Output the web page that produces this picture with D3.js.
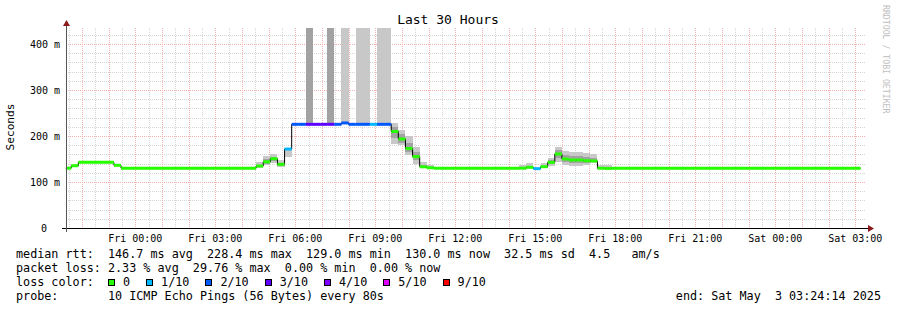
<!DOCTYPE html>
<html>
<head>
<meta charset="utf-8">
<script src="https://cdn.jsdelivr.net/npm/d3@7"></script>
<style>
  body { margin: 0; background: #fff; }
  text { font-family: "DejaVu Sans Mono", monospace; white-space: pre; }
</style>
</head>
<body>
<svg id="chart" width="897" height="310"></svg>
<script>
// 16 minute consolidated steps (start time of each step)
const stepStart = [
  "2025-05-01 21:24", "2025-05-01 21:36", "2025-05-01 21:52", "2025-05-01 23:12", "2025-05-01 23:28",
  "2025-05-02 04:32", "2025-05-02 04:48", "2025-05-02 05:04", "2025-05-02 05:20", "2025-05-02 05:36",
  "2025-05-02 05:52", "2025-05-02 06:08", "2025-05-02 06:24", "2025-05-02 06:40", "2025-05-02 06:56",
  "2025-05-02 07:12", "2025-05-02 07:28", "2025-05-02 07:44", "2025-05-02 08:00", "2025-05-02 08:16",
  "2025-05-02 08:32", "2025-05-02 08:48", "2025-05-02 09:04", "2025-05-02 09:20", "2025-05-02 09:36",
  "2025-05-02 09:52", "2025-05-02 10:08", "2025-05-02 10:24", "2025-05-02 10:40", "2025-05-02 10:56",
  "2025-05-02 11:12", "2025-05-02 14:24", "2025-05-02 14:40", "2025-05-02 14:56", "2025-05-02 15:12",
  "2025-05-02 15:28", "2025-05-02 15:44", "2025-05-02 16:00", "2025-05-02 16:16", "2025-05-02 16:32",
  "2025-05-02 16:48", "2025-05-02 17:04", "2025-05-02 17:20", "2025-05-02 17:36", "2025-05-02 17:52"
];
const dataEnd = "2025-05-03 03:12";

// median rtt in ms
const median = [
  130, 135.4, 142.8, 136.3, 130,
  134.8, 144, 150.7, 138.5, 171.7,
  225.4, 225.4, 225.4, 225.4, 225.4,
  225.4, 225.4, 228.4, 225.4, 225.4,
  225.4, 225.4, 225.4, 225.4, 209.8,
  193.5, 173, 155, 133, 131,
  130, 130, 132, 129, 133.3,
  142.8, 160.9, 150, 147.8, 147.8,
  146.3, 145.7, 130, 129.5, 130
];

// lost pings out of 10
const loss = [
  0, 0, 0, 0, 0,
  0, 0, 0, 0, 1,
  2, 2, 3, 3, 3,
  3, 2, 2, 2, 2,
  2, 1, 2, 2, 0,
  0, 0, 0, 0, 0,
  0, 0, 0, 1, 0,
  0, 0, 0, 0, 0,
  0, 0, 0, 0, 0
];

// outer (light) smoke range, ms
const smokeLo = [
  null, null, null, null, null,
  130, 137, 141, 132, 155,
  null, null, null, null, null,
  null, null, 228.4, null, 225.4,
  225.4, null, 225.4, 225.4, 182,
  180, 159, 140, 130, 128,
  null, 128, 130, null, 131,
  135, 144, 138, 135, 135,
  136, 141, 128, 128, null
];
const smokeHi = [
  null, null, null, null, null,
  144, 156.5, 161, 148, 172,
  null, null, null, null, null,
  null, null, 450, null, 450,
  450, null, 450, 450, 228,
  213, 200, 177, 144, 137,
  null, 137, 141, null, 141,
  153, 177, 167, 166, 166,
  164, 161, 137, 137, null
];
// inner (dark) smoke range, ms
const coreLo = [
  null, null, null, null, null,
  132, 140, 145, 134, null,
  null, null, 225.4, null, null,
  225.4, null, null, null, null,
  null, null, null, null, 195,
  185, 165, 147, 131, null,
  null, null, null, null, null,
  139, 152, 144, 141, 141,
  141, 143, null, null, null
];
const coreHi = [
  null, null, null, null, null,
  138, 150, 155, 142, null,
  null, null, 450, null, null,
  450, null, null, null, null,
  null, null, null, null, 220,
  205, 185, 165, 138, null,
  null, null, null, null, null,
  148, 170, 158, 156, 156,
  154, 152, null, null, null
];

const rangeStart = "2025-05-01 21:24:14";
const rangeEnd = "2025-05-03 03:24:14";
const yMax = 434.8;
const yMajor = [100, 200, 300, 400];
const yTickValues = [0, 100, 200, 300, 400];
const yTickLabels = ["0", "100 m", "200 m", "300 m", "400 m"];

const lossSteps = [0, 1, 2, 3, 4, 5, 9];
const lossLabels = ["0", "1/10", "2/10", "3/10", "4/10", "5/10", "9/10"];
const lossColors = ["#26ff00", "#00b8ff", "#0059ff", "#5e00ff", "#7e00ff", "#dd00ff", "#ff0000"];

const statLines = [
  "median rtt:  146.7 ms avg  228.4 ms max  129.0 ms min  130.0 ms now  32.5 ms sd  4.5   am/s",
  "packet loss: 2.33 % avg  29.76 % max  0.00 % min  0.00 % now"
];
const probeLine = "probe:       10 ICMP Echo Pings (56 Bytes) every 80s";
const endLine = "end: Sat May  3 03:24:14 2025";

const parseMin = d3.timeParse("%Y-%m-%d %H:%M");
const parseSec = d3.timeParse("%Y-%m-%d %H:%M:%S");

const steps = stepStart.map((s, i) => ({
  t0: parseMin(s),
  t1: i + 1 < stepStart.length ? parseMin(stepStart[i + 1]) : parseMin(dataEnd),
  m: median[i], loss: loss[i],
  sLo: smokeLo[i], sHi: smokeHi[i], cLo: coreLo[i], cHi: coreHi[i]
}));

const plotLeft = 66, plotRight = 866, plotTop = 28, plotBottom = 228;

const x = d3.scaleTime()
  .domain([parseSec(rangeStart), parseSec(rangeEnd)])
  .range([plotLeft, plotRight]);
const y = d3.scaleLinear().domain([0, yMax]).range([plotBottom, plotTop]).clamp(true);

function lossColor(n) {
  let c = lossColors[0];
  lossSteps.forEach((s, i) => { if (n >= s) c = lossColors[i]; });
  return c;
}

const svg = d3.select("#chart");
svg.append("rect").attr("width", 897).attr("height", 310).attr("fill", "#fff");

// grid
const minorCol = "#d6d6d6", majorCol = "#f5b0b0";
const grid = svg.append("g").attr("shape-rendering", "crispEdges").attr("fill", "none");
const minorY = d3.range(20, yMax, 20).filter(v => v % 100 !== 0);
grid.selectAll(".hmin").data(minorY).enter().append("line")
  .attr("x1", plotLeft).attr("x2", plotRight)
  .attr("y1", d => Math.round(y(d)) + 0.5).attr("y2", d => Math.round(y(d)) + 0.5)
  .attr("stroke", minorCol).attr("stroke-dasharray", "1,1");
const minorX = d3.timeMinute.every(30).range(x.domain()[0], x.domain()[1])
  .filter(d => d.getMinutes() !== 0);
grid.selectAll(".vmin").data(minorX).enter().append("line")
  .attr("y1", plotTop).attr("y2", plotBottom)
  .attr("x1", d => Math.round(x(d)) + 0.5).attr("x2", d => Math.round(x(d)) + 0.5)
  .attr("stroke", minorCol).attr("stroke-dasharray", "1,1");
grid.selectAll(".hmaj").data(yMajor).enter().append("line")
  .attr("x1", plotLeft).attr("x2", plotRight)
  .attr("y1", d => Math.round(y(d)) + 0.5).attr("y2", d => Math.round(y(d)) + 0.5)
  .attr("stroke", majorCol).attr("stroke-dasharray", "1,1");
const majorX = d3.timeHour.every(1).range(x.domain()[0], x.domain()[1]);
grid.selectAll(".vmaj").data(majorX).enter().append("line")
  .attr("y1", plotTop).attr("y2", plotBottom)
  .attr("x1", d => Math.round(x(d)) + 0.5).attr("x2", d => Math.round(x(d)) + 0.5)
  .attr("stroke", majorCol).attr("stroke-dasharray", "1,1");

// smoke
const smoke = svg.append("g").attr("shape-rendering", "crispEdges");
smoke.selectAll(".s").data(steps.filter(d => d.sLo !== null)).enter().append("rect")
  .attr("x", d => x(d.t0)).attr("width", d => x(d.t1) - x(d.t0))
  .attr("y", d => y(d.sHi)).attr("height", d => y(d.sLo) - y(d.sHi))
  .attr("fill", "#c8c8c8");
smoke.selectAll(".c").data(steps.filter(d => d.cLo !== null)).enter().append("rect")
  .attr("x", d => x(d.t0)).attr("width", d => x(d.t1) - x(d.t0))
  .attr("y", d => y(d.cHi)).attr("height", d => y(d.cLo) - y(d.cHi))
  .attr("fill", "#a2a2a2");

// median line
const pts = steps.map(d => [d.t0, d.m]).concat([[parseMin(dataEnd), median[median.length - 1]]]);
svg.append("path")
  .attr("d", d3.line().x(d => x(d[0])).y(d => y(d[1])).curve(d3.curveStepAfter)(pts))
  .attr("fill", "none").attr("stroke", "#000").attr("stroke-width", 1);
svg.append("g").selectAll("line").data(steps).enter().append("line")
  .attr("x1", d => x(d.t0)).attr("x2", d => x(d.t1))
  .attr("y1", d => y(d.m)).attr("y2", d => y(d.m))
  .attr("stroke", d => lossColor(d.loss)).attr("stroke-width", 3);

// axes
const axis = svg.append("g").attr("shape-rendering", "crispEdges");
axis.append("line").attr("x1", 62).attr("x2", 868).attr("y1", plotBottom + 0.5).attr("y2", plotBottom + 0.5)
  .attr("stroke", "#000");
axis.append("line").attr("x1", plotLeft + 0.5).attr("x2", plotLeft + 0.5).attr("y1", 232).attr("y2", 24)
  .attr("stroke", "#555");
svg.append("path").attr("d", `M${plotLeft + 0.5},20L${plotLeft - 3},26L${plotLeft + 4},26Z`).attr("fill", "#8b1a1a");
svg.append("path").attr("d", `M874,${plotBottom + 0.5}L868,${plotBottom - 3}L868,${plotBottom + 4}Z`).attr("fill", "#8b1a1a");

// y labels
svg.append("g").selectAll("text").data(yTickValues).enter().append("text")
  .attr("x", (d, i) => i === 0 ? 47 : 60).attr("y", d => y(d) + 3.5)
  .attr("text-anchor", "end").attr("font-size", 10).attr("fill", "#000")
  .text((d, i) => yTickLabels[i]);

// x labels
const fmt = d3.timeFormat("%a %H:%M");
const labelX = d3.timeHour.every(3).range(x.domain()[0], x.domain()[1]);
svg.append("g").selectAll("text").data(labelX).enter().append("text")
  .attr("x", d => x(d)).attr("y", 242)
  .attr("text-anchor", "middle").attr("font-size", 10).attr("fill", "#000")
  .text(d => fmt(d));

// titles
svg.append("text").attr("x", 448).attr("y", 24).attr("text-anchor", "middle")
  .attr("font-size", 13).attr("fill", "#000").text("Last 30 Hours");
svg.append("text").attr("transform", "translate(14,127) rotate(-90)")
  .attr("text-anchor", "middle").attr("font-size", 11.2).attr("fill", "#000").text("Seconds");
svg.append("text").attr("transform", "translate(883,5) rotate(90)")
  .attr("font-size", 8.2).attr("fill", "#c0c0c0").text("RRDTOOL / TOBI OETIKER");

// legend
const lf = 11.75;
statLines.forEach((s, i) => {
  svg.append("text").attr("x", 16).attr("y", 258 + i * 14).attr("font-size", lf).attr("fill", "#000").text(s);
});
svg.append("text").attr("x", 16).attr("y", 286).attr("font-size", lf).attr("fill", "#000").text("loss color:");
let lx = 108;
lossLabels.forEach((lab, i) => {
  svg.append("rect").attr("x", lx + 0.5).attr("y", 279.5).attr("width", 6).attr("height", 6)
    .attr("fill", lossColors[i]).attr("stroke", "#000").attr("stroke-width", 1)
    .attr("shape-rendering", "crispEdges");
  const t = svg.append("text").attr("x", lx + 15).attr("y", 286).attr("font-size", lf).attr("fill", "#000").text(lab);
  lx = lx + 15 + t.node().getComputedTextLength() + 16;
});
svg.append("text").attr("x", 16).attr("y", 300).attr("font-size", lf).attr("fill", "#000").text(probeLine);
svg.append("text").attr("x", 881).attr("y", 300).attr("text-anchor", "end").attr("font-size", lf).attr("fill", "#000").text(endLine);
</script>
</body>
</html>
